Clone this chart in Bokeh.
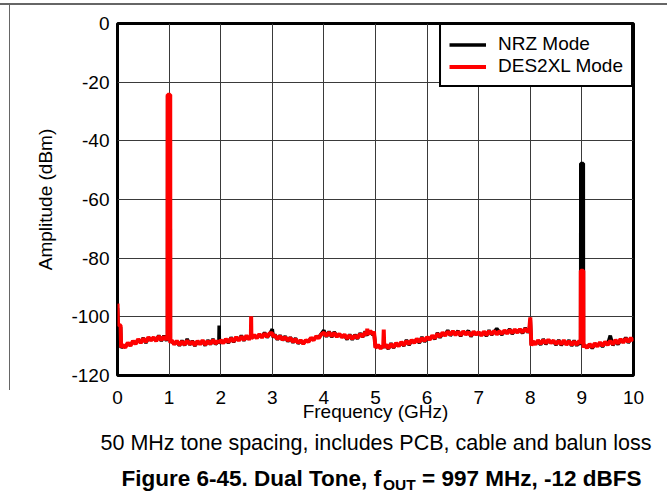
from bokeh.plotting import figure
from bokeh.models import Legend, LegendItem, FixedTicker, Range1d
from bokeh.layouts import column
from bokeh.core.properties import value
from bokeh.embed import file_html
from bokeh.resources import INLINE

# ---------------- data ----------------
freq_ghz = [
    0.00, 0.01, 0.06, 0.07, 0.10, 0.15, 0.20, 0.25, 0.30, 0.35,
    0.40, 0.45, 0.50, 0.55, 0.60, 0.65, 0.70, 0.75, 0.80, 0.85,
    0.90, 0.95, 0.970, 0.972, 1.022, 1.024,
    1.05, 1.10, 1.15, 1.20, 1.25, 1.30, 1.35, 1.40, 1.45, 1.50,
    1.55, 1.60, 1.65, 1.70, 1.75, 1.80, 1.85, 1.90, 1.95, 1.965, 1.97, 1.975,
    2.00, 2.05, 2.10, 2.15, 2.20, 2.25, 2.30, 2.35, 2.40, 2.45,
    2.50, 2.55, 2.585, 2.59, 2.595, 2.65, 2.70, 2.75, 2.80, 2.85, 2.90, 2.95,
    3.00, 3.02, 3.05, 3.10, 3.15, 3.20, 3.25, 3.30, 3.35, 3.40,
    3.45, 3.50, 3.55, 3.60, 3.65, 3.70, 3.75, 3.80, 3.85, 3.90, 3.95,
    4.00, 4.05, 4.10, 4.15, 4.20, 4.25, 4.30, 4.35, 4.40, 4.45,
    4.50, 4.55, 4.60, 4.65, 4.70, 4.75, 4.80, 4.835, 4.84, 4.845, 4.90, 4.95, 4.97,
    5.00, 5.05, 5.10, 5.15, 5.16, 5.17, 5.20, 5.25, 5.30, 5.35,
    5.40, 5.45, 5.50, 5.55, 5.60, 5.65, 5.70, 5.75, 5.80, 5.85, 5.90, 5.95,
    6.00, 6.05, 6.10, 6.15, 6.20, 6.25, 6.30, 6.35, 6.40, 6.45,
    6.50, 6.55, 6.60, 6.65, 6.70, 6.75, 6.80, 6.85, 6.90, 6.95,
    7.00, 7.05, 7.10, 7.15, 7.20, 7.25, 7.30, 7.35, 7.40, 7.45,
    7.50, 7.55, 7.60, 7.65, 7.70, 7.75, 7.80, 7.85, 7.90, 7.95, 7.98,
    8.00, 8.02, 8.05, 8.10, 8.15, 8.20, 8.25, 8.30, 8.35, 8.40,
    8.45, 8.50, 8.55, 8.60, 8.65, 8.70, 8.75, 8.80, 8.85, 8.90, 8.95,
    8.976, 8.978, 9.028, 9.030,
    9.05, 9.10, 9.15, 9.20, 9.25, 9.30, 9.35, 9.40, 9.45, 9.50,
    9.55, 9.60, 9.65, 9.70, 9.75, 9.80, 9.85, 9.90, 9.95, 10.00,
]

nrz_dbm = [
    -97.0, -103.2, -103.6, -110.6, -109.9, -110.2, -109.1, -109.6, -108.5, -109.0,
    -107.9, -108.6, -107.2, -108.9, -107.2, -107.8, -107.3, -108.0, -106.4, -108.2,
    -106.5, -108.1, -107.2, -24.6, -24.6, -108.6,
    -108.3, -109.2, -108.5, -109.8, -108.1, -109.7, -107.5, -109.5, -108.2, -109.9,
    -108.5, -109.1, -108.3, -109.8, -108.0, -109.4, -107.6, -109.3, -108.5, -108.8, -103.0, -109.2,
    -108.2, -108.7, -107.9, -108.9, -107.0, -108.6, -107.2, -107.8, -106.4, -108.1,
    -106.7, -107.5, -106.9, -106.8, -107.1, -106.5, -107.0, -106.2, -106.8, -105.4, -107.0, -105.9,
    -104.2, -107.1, -106.0, -107.8, -106.3, -108.0, -106.6, -108.4, -107.0, -108.8,
    -107.3, -109.1, -108.3, -109.0, -108.2, -108.3, -107.4, -107.7, -106.9, -107.0, -105.8,
    -104.6, -106.8, -105.0, -106.9, -105.2, -106.5, -106.1, -106.7, -106.4, -107.7,
    -106.0, -107.8, -106.1, -107.5, -105.6, -106.9, -105.0, -106.5, -105.4, -105.7, -105.1, -106.2, -105.3,
    -110.3, -109.9, -110.5, -110.1, -110.2, -110.3, -109.8, -110.9, -109.0, -110.6,
    -109.2, -109.8, -108.9, -109.9, -107.9, -109.6, -108.1, -108.6, -107.8, -108.9, -106.9, -108.5,
    -107.2, -107.5, -106.7, -107.6, -105.5, -107.1, -105.7, -106.1, -104.6, -106.4,
    -105.2, -105.9, -104.8, -106.6, -105.2, -105.7, -104.7, -106.7, -105.3, -105.8,
    -105.5, -106.1, -105.3, -106.5, -104.6, -106.2, -105.1, -104.0, -105.2, -106.1,
    -104.9, -105.4, -104.2, -105.8, -104.6, -105.1, -104.5, -105.6, -103.8, -105.3, -104.6,
    -100.9, -109.5, -108.6, -109.1, -108.3, -109.5, -107.6, -109.3, -108.1, -108.6,
    -108.4, -109.6, -107.9, -109.7, -108.3, -109.2, -108.0, -109.9, -108.1, -109.8, -108.5,
    -109.5, -47.7, -47.7, -110.2,
    -109.9, -110.3, -109.6, -110.7, -109.3, -109.8, -109.0, -110.2, -108.8, -109.3,
    -106.4, -109.7, -108.2, -109.4, -107.9, -108.5, -107.1, -108.8, -107.5, -107.9,
]

des2xl_dbm = [
    -95.5, -102.6, -103.0, -110.4, -109.6, -110.5, -108.8, -109.9, -108.2, -109.3,
    -107.6, -108.9, -107.4, -108.6, -106.9, -108.1, -107.0, -108.3, -106.6, -107.9,
    -106.8, -107.8, -106.9, -24.3, -24.3, -108.9,
    -108.0, -109.4, -108.2, -109.6, -108.4, -109.5, -108.1, -109.3, -108.5, -109.7,
    -108.2, -109.4, -108.0, -109.5, -108.3, -109.2, -107.9, -109.1, -108.2, -109.0, -108.1, -109.0,
    -107.9, -109.0, -107.6, -108.6, -107.3, -108.4, -106.9, -108.1, -106.7, -107.9,
    -106.4, -107.7, -106.6, -99.8, -107.4, -106.2, -107.3, -105.9, -107.1, -105.7, -106.8, -105.6,
    -105.6, -106.8, -106.3, -107.5, -106.6, -107.8, -106.9, -108.1, -107.2, -108.5,
    -107.6, -108.9, -108.0, -109.2, -107.9, -108.6, -107.1, -108.0, -106.6, -107.3, -106.0,
    -105.4, -106.5, -105.3, -106.6, -105.5, -106.8, -105.8, -107.0, -106.1, -107.4,
    -106.3, -107.5, -106.4, -107.2, -105.9, -106.7, -105.3, -106.2, -104.0, -106.0, -104.8, -105.9, -105.0,
    -110.6, -109.6, -110.8, -109.8, -104.3, -110.5, -109.5, -110.7, -109.3, -110.4,
    -108.9, -110.0, -108.6, -109.7, -108.2, -109.3, -107.9, -108.9, -107.5, -108.6, -107.2, -108.2,
    -106.9, -107.8, -106.4, -107.3, -105.8, -106.8, -105.4, -106.4, -105.0, -106.1,
    -104.9, -106.2, -105.1, -106.3, -104.9, -106.0, -105.2, -106.4, -105.0, -106.1,
    -105.2, -106.4, -105.0, -106.2, -104.9, -105.9, -104.8, -106.0, -104.9, -105.8,
    -104.6, -105.7, -104.5, -105.5, -104.3, -105.4, -104.2, -105.3, -104.1, -105.0, -104.3,
    -100.2, -109.8, -108.3, -109.4, -108.0, -109.2, -107.9, -109.0, -107.8, -108.9,
    -108.1, -109.3, -108.2, -109.4, -108.0, -109.5, -108.3, -109.6, -108.4, -109.5, -108.2,
    -109.2, -84.3, -84.3, -110.5,
    -109.6, -110.6, -109.3, -110.4, -109.0, -110.1, -108.7, -109.9, -108.5, -109.6,
    -108.2, -109.4, -107.9, -109.1, -107.6, -108.8, -107.4, -108.5, -107.2, -108.2,
]

x_ticks = [0, 1, 2, 3, 4, 5, 6, 7, 8, 9, 10]
y_ticks = [-120, -100, -80, -60, -40, -20, 0]
series_names = ["NRZ Mode", "DES2XL Mode"]
x_label = "Frequency (GHz)"
y_label = "Amplitude (dBm)"
caption = "50 MHz tone spacing, includes PCB, cable and balun loss"
title_main = "Figure 6-45. Dual Tone, f"
title_sub = "OUT"
title_tail = "= 997 MHz, -12 dBFS"

FONT = "Liberation Sans"
W = 667
H_CHART = 429
H_TEXT = 504 - H_CHART

# ---------------- chart ----------------
p = figure(width=W, height=H_CHART, output_backend="svg", toolbar_location=None,
           x_range=Range1d(0, 10), y_range=Range1d(-120, 0),
           min_border_left=117, min_border_right=34, min_border_top=23,
           min_border_bottom=54)
p.frame_align = False
p.title.text = ""
p.background_fill_color = "white"
p.border_fill_alpha = 0
p.outline_line_color = "black"
p.outline_line_width = 3
p.outline_line_alpha = 1
# thin grey page frame (top and left), drawn behind the transparent border area
p.styles = {
    "background-color": "white",
    "background-image": "linear-gradient(#666666, #666666), linear-gradient(#666666, #666666)",
    "background-size": "100% 2px, 1px 387px",
    "background-position": "0px 3px, 9px 3px",
    "background-repeat": "no-repeat",
}

for ax in (p.xaxis[0], p.yaxis[0]):
    ax.axis_line_color = None
    ax.major_tick_line_color = None
    ax.minor_tick_line_color = None
    ax.major_tick_out = 0
    ax.major_tick_in = 0
    ax.minor_tick_out = 0
    ax.major_label_text_font = FONT
    ax.major_label_text_font_size = "19px"
    ax.major_label_text_color = "black"
    ax.axis_label_text_font = FONT
    ax.axis_label_text_font_size = "19px"
    ax.axis_label_text_font_style = "normal"
    ax.axis_label_text_color = "black"

p.xaxis.ticker = FixedTicker(ticks=x_ticks)
p.yaxis.ticker = FixedTicker(ticks=y_ticks)
p.xaxis.major_label_overrides = {t: str(t) for t in x_ticks}
p.yaxis.major_label_overrides = {t: str(t) for t in y_ticks}
p.xaxis.axis_label = x_label
p.yaxis.axis_label = y_label
p.xaxis.major_label_standoff = 15
p.yaxis.major_label_standoff = 8
p.xaxis.axis_label_standoff = -6
p.yaxis.axis_label_standoff = 12

p.xgrid.ticker = FixedTicker(ticks=x_ticks)
p.ygrid.ticker = FixedTicker(ticks=y_ticks)
for g in (p.xgrid[0], p.ygrid[0]):
    g.grid_line_color = "#3a3a3a"
    g.grid_line_width = 1
    g.grid_line_alpha = 1

r_nrz = p.line(freq_ghz, nrz_dbm, line_color="black", line_width=3.5)
r_des = p.line(freq_ghz, des2xl_dbm, line_color="#ff0000", line_width=4)

legend = Legend(items=[LegendItem(label=series_names[0], renderers=[r_nrz]),
                       LegendItem(label=series_names[1], renderers=[r_des])],
                location="top_right", margin=0, padding=8, spacing=0,
                glyph_width=37, glyph_height=19, label_height=19, label_standoff=12,
                label_text_font=FONT, label_text_font_size="19px",
                label_text_color="black",
                border_line_color="black", border_line_width=2, border_line_alpha=1,
                background_fill_color="white", background_fill_alpha=1)
p.add_layout(legend, "center")

# ---------------- caption + figure title (own strip below the chart) ----------------
t = figure(width=W, height=H_TEXT, output_backend="svg", toolbar_location=None,
           x_range=Range1d(0, W), y_range=Range1d(H_TEXT, 0),
           x_axis_location=None, y_axis_location=None, min_border=0)
t.frame_align = False
t.title.text = ""
t.grid.visible = False
t.outline_line_color = None
t.background_fill_color = "white"
t.border_fill_color = "white"

t.text(x=[375.5], y=[13], text=[caption], text_align="center", text_baseline="middle",
       text_font=value(FONT), text_font_size=value("21.5px"), text_color="black")
t.text(x=[121], y=[49], text=[title_main], text_align="left", text_baseline="middle",
       text_font=value(FONT), text_font_size=value("22.5px"), text_font_style="bold",
       text_color="black")
t.text(x=[382.5], y=[55], text=[title_sub], text_align="left", text_baseline="middle",
       text_font=value(FONT), text_font_size=value("15.5px"), text_font_style="bold",
       text_color="black")
t.text(x=[421.5], y=[49], text=[title_tail], text_align="left", text_baseline="middle",
       text_font=value(FONT), text_font_size=value("22.5px"), text_font_style="bold",
       text_color="black")

layout = column(p, t, spacing=0)
open("out.html", "w").write(file_html(layout, INLINE))
